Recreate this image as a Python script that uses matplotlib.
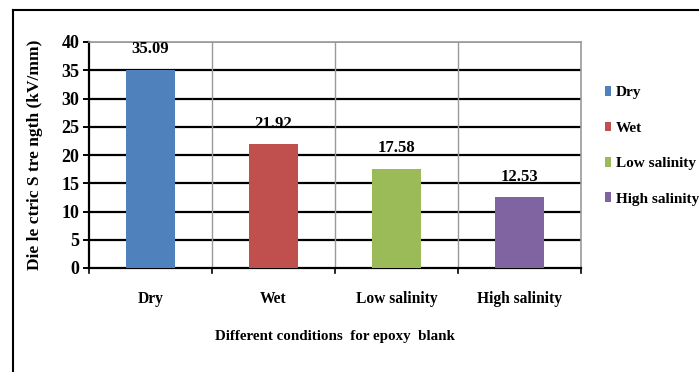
import matplotlib.pyplot as plt
from matplotlib.lines import Line2D

conditions = ['Dry', 'Wet', 'Low salinity', 'High salinity']
strength = [35.09, 21.92, 17.58, 12.53]
colors = ['#4F81BD', '#C0504D', '#9BBB59', '#8064A2']
yticks = [0, 5, 10, 15, 20, 25, 30, 35, 40]

plt.rcParams['font.family'] = 'Liberation Serif'
plt.rcParams['font.weight'] = 'bold'

fig = plt.figure(figsize=(6.99, 3.72), dpi=100)
ax = fig.add_axes([89 / 699, 1 - 268 / 372, 492 / 699, 226 / 372])

x = range(len(conditions))
bars = ax.bar(x, strength, width=0.4, color=colors, label=conditions, zorder=3)

for b, v in zip(bars, strength):
    ax.text(b.get_x() + b.get_width() / 2, v + 2.2, f'{v:.2f}',
            ha='center', va='bottom', fontsize=12, fontweight='bold')

ax.set_xlim(-0.5, 3.5)
ax.set_ylim(0, 40)
ax.set_yticks(yticks)
ax.set_xticks([])

# horizontal gridlines in black, category separators in grey
for y in yticks[1:-1]:
    ax.axhline(y, color='black', lw=1.6, zorder=1)
ax.axhline(40, color='#999999', lw=1.2, zorder=1)
for xb in [0.5, 1.5, 2.5]:
    ax.axvline(xb, color='#999999', lw=1.0, zorder=1)

for s in ['top', 'right']:
    ax.spines[s].set_color('#999999')
    ax.spines[s].set_linewidth(1.2)
for s in ['left', 'bottom']:
    ax.spines[s].set_color('black')
    ax.spines[s].set_linewidth(1.6)

ax.tick_params(axis='y', length=4, width=1.4, labelsize=13, pad=3)
for xb in [-0.5, 0.5, 1.5, 2.5, 3.5]:
    ax.plot([xb, xb], [0, -0.9], color='black', lw=1.2, clip_on=False)

for i, name in enumerate(conditions):
    ax.text(i, -5.5, name, ha='center', va='center', fontsize=11.2, fontweight='bold')

ax.text(1.5, -12.2, 'Different conditions  for epoxy  blank', ha='center', va='center',
        fontsize=10.8, fontweight='bold')
ax.set_ylabel('Die le ctric S tre ngth (kV/mm)', fontsize=12.5, fontweight='bold')
ax.yaxis.set_label_coords(-0.094, 0.5)

leg = fig.legend(handles=bars, labels=conditions, loc='upper left',
                 bbox_to_anchor=(599 / 699, 1 - 80 / 372), frameon=False,
                 fontsize=11, handlelength=0.4, handleheight=0.6,
                 handletextpad=0.3, labelspacing=1.45, borderaxespad=0)

# outer chart frame (cut off at right and bottom)
fig.add_artist(Line2D([13 / 699, 1], [1 - 10 / 372, 1 - 10 / 372], color='black', lw=1.5))
fig.add_artist(Line2D([13 / 699, 13 / 699], [0, 1 - 10 / 372], color='black', lw=1.5))

fig.savefig('out.png', dpi=100)
